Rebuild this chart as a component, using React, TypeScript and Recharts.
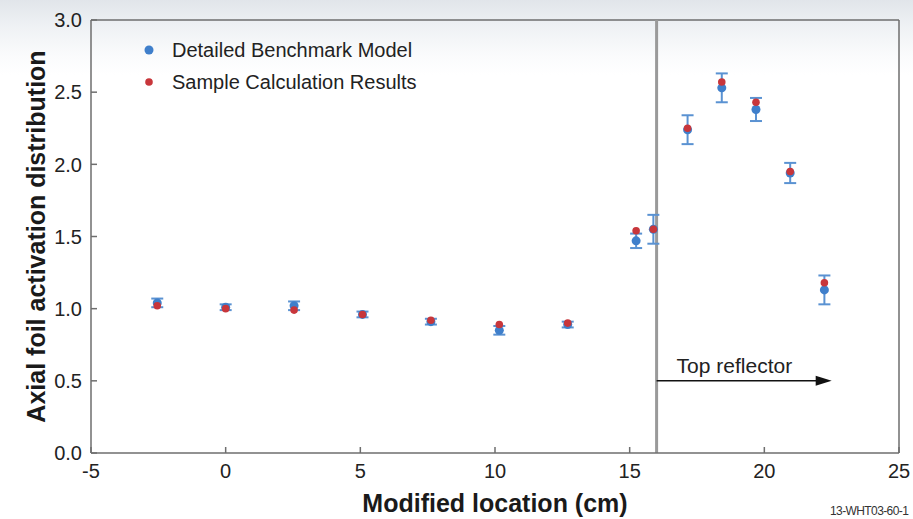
import React from "react";
import { ScatterChart, Scatter, XAxis, YAxis, ErrorBar, ReferenceLine, Label } from "recharts";

// axial positions of the foils (cm)
const positions = [-2.54, 0, 2.54, 5.08, 7.62, 10.16, 12.7, 15.24, 15.88, 17.15, 18.42, 19.69, 20.96, 22.23];
// detailed benchmark model and its uncertainty
const benchmark = [1.04, 1.01, 1.02, 0.96, 0.91, 0.85, 0.89, 1.47, 1.55, 2.24, 2.53, 2.38, 1.94, 1.13];
const benchmarkError = [0.03, 0.02, 0.03, 0.02, 0.02, 0.03, 0.02, 0.05, 0.1, 0.1, 0.1, 0.08, 0.07, 0.1];
// sample calculation results
const sample = [1.02, 1.0, 0.99, 0.96, 0.92, 0.89, 0.9, 1.54, 1.55, 2.25, 2.57, 2.43, 1.95, 1.18];

const xTicks = [-5, 0, 5, 10, 15, 20, 25];
const yTicks = [0, 0.5, 1, 1.5, 2, 2.5, 3];

const reflectorStart = 16;
const reflectorArrowEnd = 22.5;
const reflectorArrowY = 0.5;

const benchmarkData = positions.map((x, i) => ({ x, y: benchmark[i], err: benchmarkError[i] }));
const sampleData = positions.map((x, i) => ({ x, y: sample[i] }));

const AXIS = "#6e6e6e";
const BLUE = "#3f7fcb";
const BLUE_BAR = "#5a92d2";
const RED = "#c8363b";
const FONT = "Arial, 'Liberation Sans', sans-serif";

const YTick = (props: any) => {
	const { x, y, payload } = props;
	return (
		<g>
			<line x1={x} x2={x + 6} y1={y} y2={y} stroke={AXIS} strokeWidth={1.5} />
			<text x={x - 9} y={y} dy="0.36em" textAnchor="end" fontSize={20} fill="#222" fontFamily={FONT}>
				{Number(payload.value).toFixed(1)}
			</text>
		</g>
	);
};

const XTick = (props: any) => {
	const { x, y, payload } = props;
	return (
		<g>
			<line x1={x} x2={x} y1={y} y2={y - 6} stroke={AXIS} strokeWidth={1.5} />
			<text x={x} y={y + 25} textAnchor="middle" fontSize={20} fill="#222" fontFamily={FONT}>
				{payload.value}
			</text>
		</g>
	);
};

const BlueDot = (props: any) => <circle cx={props.cx} cy={props.cy} r={4.5} fill={BLUE} />;
const RedDot = (props: any) => <circle cx={props.cx} cy={props.cy} r={3.8} fill={RED} />;

// arrow marking the top reflector region
const ReflectorArrow = (props: any) => {
	const { x1, y1, x2, y2 } = props;
	return (
		<g>
			<line x1={x1} y1={y1} x2={x2 - 12} y2={y2} stroke="#111" strokeWidth={1.5} />
			<polygon points={`${x2},${y2} ${x2 - 16},${y2 - 5} ${x2 - 16},${y2 + 5}`} fill="#111" />
			<text x={x1 + 20} y={y1 - 8} fontSize={21} fill="#222" fontFamily={FONT}>
				Top reflector
			</text>
		</g>
	);
};

const LegendRow = ({ color, label, top }: { color: string; label: string; top: number }) => (
	<div style={{ position: "absolute", left: 142, top, display: "flex", alignItems: "center", height: 24 }}>
		<svg width={14} height={14} style={{ marginRight: 16 }}>
			<circle cx={7} cy={7} r={color === BLUE ? 4.5 : 3.8} fill={color} />
		</svg>
		<span style={{ fontSize: 20, color: "#222", fontFamily: FONT }}>{label}</span>
	</div>
);

const App = () => {
	return (
		<div
			style={{
				position: "absolute",
				left: 0,
				top: 0,
				width: 913,
				height: 519,
				overflow: "hidden",
				background: "linear-gradient(to bottom, #e1e5ea 0px, #eef1f4 25px, #fafbfc 55px, #ffffff 75px)",
				fontFamily: FONT,
			}}
		>
			<ScatterChart width={913} height={519} margin={{ top: 20, right: 14, bottom: 0, left: 0 }}>
				<XAxis
					type="number"
					dataKey="x"
					domain={[-5, 25]}
					ticks={xTicks}
					interval={0}
					height={66}
					tickSize={0}
					tickMargin={0}
					tickLine={false}
					axisLine={{ stroke: AXIS, strokeWidth: 1.5 }}
					tick={<XTick />}
					allowDataOverflow
				>
					<Label
						value="Modified location (cm)"
						position="insideBottom"
						offset={7}
						style={{ fontSize: 25, fontWeight: "bold", fill: "#1a1a1a", fontFamily: FONT }}
					/>
				</XAxis>
				<YAxis
					type="number"
					dataKey="y"
					domain={[0, 3]}
					ticks={yTicks}
					interval={0}
					width={91}
					tickSize={0}
					tickMargin={0}
					tickLine={false}
					axisLine={{ stroke: AXIS, strokeWidth: 1.5 }}
					tick={<YTick />}
					allowDataOverflow
				>
					<Label
						value="Axial foil activation distribution"
						angle={-90}
						position="insideLeft"
						offset={36}
						style={{ fontSize: 25, fontWeight: "bold", fill: "#1a1a1a", fontFamily: FONT, textAnchor: "middle" }}
					/>
				</YAxis>
				<ReferenceLine y={3} stroke={AXIS} strokeWidth={1.5} />
				<ReferenceLine x={25} stroke={AXIS} strokeWidth={1.5} />
				<ReferenceLine x={reflectorStart} stroke="#9a9a9a" strokeWidth={3} />
				<ReferenceLine
					segment={[
						{ x: reflectorStart, y: reflectorArrowY },
						{ x: reflectorArrowEnd, y: reflectorArrowY },
					]}
					shape={ReflectorArrow}
				/>
				<Scatter name="Detailed Benchmark Model" data={benchmarkData} shape={BlueDot} isAnimationActive={false}>
					<ErrorBar dataKey="err" direction="y" width={6} stroke={BLUE_BAR} strokeWidth={2} isAnimationActive={false} />
				</Scatter>
				<Scatter name="Sample Calculation Results" data={sampleData} shape={RedDot} isAnimationActive={false} />
			</ScatterChart>
			<LegendRow color={BLUE} label="Detailed Benchmark Model" top={38} />
			<LegendRow color={RED} label="Sample Calculation Results" top={70} />
			<div style={{ position: "absolute", left: 830, top: 504, fontSize: 12, letterSpacing: -0.6, color: "#333", whiteSpace: "nowrap" }}>
				13-WHT03-60-1
			</div>
		</div>
	);
};

export default App;
